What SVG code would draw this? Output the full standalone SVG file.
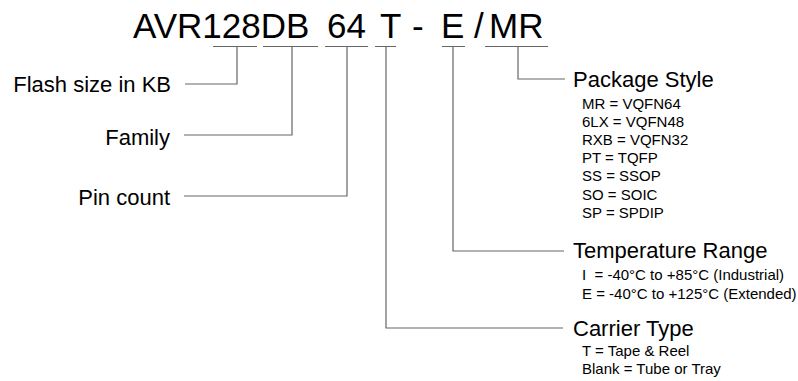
<svg xmlns="http://www.w3.org/2000/svg" width="798" height="381" viewBox="0 0 798 381">
<style>
text{font-family:"Liberation Sans",Arial,sans-serif;fill:#000}
.title{font-size:35px}
.lbl{font-size:22px}
.small{font-size:15px}
.ln{stroke:#666;stroke-width:1.2;fill:none}
</style>
<rect width="798" height="381" fill="#fff"/>
<g id="part-number">
<text class="title" x="133" y="38">AVR128DB</text>
<text class="title" x="327" y="38">64</text>
<text class="title" x="380" y="38">T</text>
<text class="title" x="412" y="38">-</text>
<text class="title" x="441" y="38">E</text>
<text class="title" x="474" y="38">/</text>
<text class="title" x="489" y="38">MR</text>
</g>
<g id="connectors">
<path class="ln" d="M213 46.5H257M263 46.5H318M325 46.5H368M375 46.5H396M442 46.5H465M485 46.5H548"/>
<path class="ln" d="M237 46.5V84H185"/>
<path class="ln" d="M292 46.5V135H184"/>
<path class="ln" d="M347 46.5V196H184"/>
<path class="ln" d="M386 46.5V328H563"/>
<path class="ln" d="M453 46.5V251H564"/>
<path class="ln" d="M518 46.5V79H565"/>
</g>
<g id="flash"><text class="lbl" x="171" y="92" text-anchor="end">Flash size in KB</text></g>
<g id="family"><text class="lbl" x="170" y="145" text-anchor="end">Family</text></g>
<g id="pincount"><text class="lbl" x="170" y="205" text-anchor="end">Pin count</text></g>
<g id="package">
<text class="lbl" x="573" y="87">Package Style</text>
<text class="small" x="582" y="108.5">MR = VQFN64</text>
<text class="small" x="582" y="126.7">6LX = VQFN48</text>
<text class="small" x="582" y="144.9">RXB = VQFN32</text>
<text class="small" x="582" y="163.1">PT = TQFP</text>
<text class="small" x="582" y="181.3">SS = SSOP</text>
<text class="small" x="582" y="199.5">SO = SOIC</text>
<text class="small" x="582" y="217.7">SP = SPDIP</text>
</g>
<g id="temperature">
<text class="lbl" x="573" y="258">Temperature Range</text>
<text class="small" x="582" y="280" xml:space="preserve">I  = -40°C to +85°C (Industrial)</text>
<text class="small" x="582" y="298.5">E = -40°C to +125°C (Extended)</text>
</g>
<g id="carrier">
<text class="lbl" x="573" y="336">Carrier Type</text>
<text class="small" x="582" y="356">T = Tape &amp; Reel</text>
<text class="small" x="582" y="374">Blank = Tube or Tray</text>
</g>
</svg>
